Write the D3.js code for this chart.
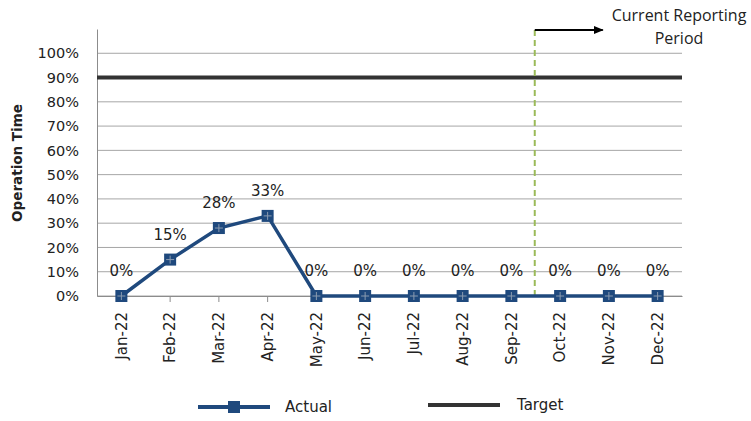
<!DOCTYPE html>
<html lang="en">
<head>
<meta charset="UTF-8">
<script src="https://d3js.org/d3.v7.min.js"></script>
<style>
    body { margin: 0; background: white; }
    text { font-family: "DejaVu Sans", Verdana, sans-serif; fill: #222; }
</style>
</head>
<body>
<script>
    var months = ["Jan-22","Feb-22","Mar-22","Apr-22","May-22","Jun-22","Jul-22","Aug-22","Sep-22","Oct-22","Nov-22","Dec-22"];
    var actual = [0, 15, 28, 33, 0, 0, 0, 0, 0, 0, 0, 0];
    var target = 90;
    var yTicks = [0, 10, 20, 30, 40, 50, 60, 70, 80, 90, 100];
    var reportStart = "Oct-22";

    var svg = d3.select("body").append("svg")
        .attr("width", 751)
        .attr("height", 421);

    var plotLeft = 97, plotRight = 682, plotTop = 29, plotBottom = 296;

    var x = d3.scaleBand().domain(months).range([plotLeft, plotRight]);
    var y = d3.scaleLinear().domain([0, 110]).range([plotBottom, plotTop]);
    var cx = function(d) { return x(d) + x.bandwidth() / 2; };

    // gridlines
    svg.append("g").selectAll("line").data(yTicks).enter().append("line")
        .attr("x1", plotLeft).attr("x2", plotRight)
        .attr("y1", d => y(d)).attr("y2", d => y(d))
        .attr("stroke", "#a6a6a6").attr("stroke-width", 1);

    // y axis
    var yAxis = svg.append("g")
        .attr("transform", "translate(" + plotLeft + ",0)")
        .call(d3.axisLeft(y).tickValues(yTicks).tickSize(0).tickPadding(18).tickFormat(d => d + "%"));
    yAxis.select(".domain").attr("stroke", "#8c8c8c");
    yAxis.selectAll("text").style("font-size", "14.5px").attr("fill", "#222");

    // x axis
    var xAxis = svg.append("g")
        .attr("transform", "translate(0," + plotBottom + ")")
        .call(d3.axisBottom(x).tickSize(6).tickSizeOuter(0));
    xAxis.select(".domain").attr("stroke", "#8c8c8c");
    xAxis.selectAll(".tick line").attr("stroke", "#8c8c8c");
    xAxis.selectAll("text")
        .style("font-size", "15px")
        .attr("fill", "#222")
        .attr("transform", "rotate(-90)")
        .attr("text-anchor", "end")
        .attr("x", -16).attr("y", 0).attr("dy", "0.35em");

    // y axis title
    svg.append("text")
        .attr("transform", "translate(22," + 163 + ") rotate(-90)")
        .attr("text-anchor", "middle")
        .style("font-size", "13.5px")
        .style("font-weight", "bold")
        .text("Operation Time");

    // target line
    svg.append("line")
        .attr("x1", plotLeft).attr("x2", plotRight)
        .attr("y1", y(target)).attr("y2", y(target))
        .attr("stroke", "#333").attr("stroke-width", 4);

    // reporting period marker
    var px = x(reportStart) - 1;
    svg.append("line")
        .attr("x1", px).attr("x2", px)
        .attr("y1", plotTop + 1).attr("y2", plotBottom)
        .attr("stroke", "#9bbb59").attr("stroke-width", 2)
        .attr("stroke-dasharray", "6,4");
    svg.append("defs").append("marker")
        .attr("id", "arrow").attr("viewBox", "0 0 10 10")
        .attr("refX", 9).attr("refY", 5)
        .attr("markerWidth", 5).attr("markerHeight", 5)
        .attr("orient", "auto")
        .append("path").attr("d", "M0,1 L10,5 L0,9 Z").attr("fill", "#000");
    svg.append("line")
        .attr("x1", px).attr("x2", px + 68)
        .attr("y1", plotTop + 1).attr("y2", plotTop + 1)
        .attr("stroke", "#000").attr("stroke-width", 2)
        .attr("marker-end", "url(#arrow)");
    svg.append("text")
        .attr("x", 679).attr("y", 21)
        .attr("text-anchor", "middle")
        .style("font-family", "'Open Sans', 'Liberation Sans', sans-serif")
        .style("font-size", "16px")
        .text("Current Reporting");
    svg.append("text")
        .attr("x", 679).attr("y", 44)
        .attr("text-anchor", "middle")
        .style("font-family", "'Open Sans', 'Liberation Sans', sans-serif")
        .style("font-size", "16px")
        .text("Period");

    // actual line
    var line = d3.line().x((d, i) => cx(months[i])).y(d => y(d));
    svg.append("path").datum(actual)
        .attr("d", line)
        .attr("fill", "none")
        .attr("stroke", "#1f497d").attr("stroke-width", 3.5);

    var pts = svg.append("g").selectAll("g").data(actual).enter().append("g")
        .attr("transform", (d, i) => "translate(" + cx(months[i]) + "," + y(d) + ")");
    pts.append("rect")
        .attr("x", -6).attr("y", -6).attr("width", 12).attr("height", 12)
        .attr("fill", "#1f497d");
    pts.append("path").attr("d", "M-4,0 H4 M0,-4 V4")
        .attr("stroke", "#8a9bb0").attr("stroke-width", 1);

    // data labels
    svg.append("g").selectAll("text").data(actual).enter().append("text")
        .attr("x", (d, i) => cx(months[i]))
        .attr("y", d => y(d) - 20)
        .attr("text-anchor", "middle")
        .style("font-size", "15px")
        .text(d => d + "%");

    // legend
    var lg = svg.append("g");
    lg.append("line").attr("x1", 198).attr("x2", 270).attr("y1", 407).attr("y2", 407)
        .attr("stroke", "#1f497d").attr("stroke-width", 4);
    lg.append("rect").attr("x", 228).attr("y", 401).attr("width", 12).attr("height", 12)
        .attr("fill", "#1f497d");
    lg.append("text").attr("x", 285).attr("y", 412).style("font-size", "15px").text("Actual");
    lg.append("line").attr("x1", 428).attr("x2", 500).attr("y1", 405).attr("y2", 405)
        .attr("stroke", "#333").attr("stroke-width", 4);
    lg.append("text").attr("x", 517).attr("y", 410).style("font-size", "15px").text("Target");
</script>
</body>
</html>
